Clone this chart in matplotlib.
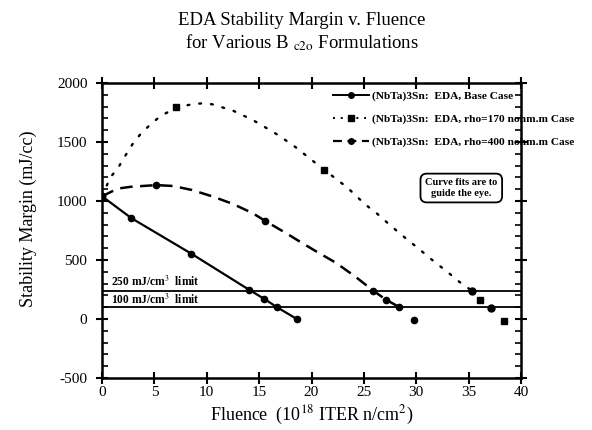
import matplotlib
matplotlib.use("Agg")
import matplotlib.pyplot as plt
from matplotlib.lines import Line2D
from matplotlib.ticker import MultipleLocator

plt.rcParams['font.family'] = ['Liberation Serif', 'DejaVu Serif']
plt.rcParams['mathtext.fontset'] = 'stix'
plt.rcParams['axes.unicode_minus'] = False

# ---- data ----
# Base case (solid line, circles)
base_x = [0, 2.8, 8.5, 14.0, 15.5, 16.7, 18.6]
base_y = [1040, 855, 555, 250, 170, 100, 0]

# rho=170 nohm.m case: curve fit (dotted) and markers
r170_fit_x = [0, 0.8, 1.6, 2.2, 2.9, 3.7, 4.7, 5.6, 7.1, 8.6, 9.6, 10.5, 12.5, 14.4,
              16.4, 17.5, 18.5, 19.5, 21.2, 23.4, 24.4, 25.2, 26.3, 27.3, 28.3,
              29.2, 30.2, 31.2, 32.1, 33.1, 34.1, 35.3]
r170_fit_y = [1040, 1200, 1290, 1380, 1480, 1570, 1655, 1720, 1792, 1820, 1828, 1820,
              1766, 1686, 1582, 1517, 1455, 1384, 1265, 1116, 1031, 966, 890, 811,
              735, 669, 599, 523, 460, 390, 316, 240]
r170_sq_x = [7.1, 21.2, 36.1, 38.4]
r170_sq_y = [1795, 1265, 160, -15]
r170_pt_x = [35.3, 37.1]
r170_pt_y = [240, 95]

# rho=400 nohm.m case: curve fit (dashed) and markers
r400_fit_x = [0, 1.5, 2.7, 5.2, 6.8, 8.6, 10.6, 12.5, 14.4, 15.6, 17.6, 18.9, 20.5,
              22.3, 24.2, 25.9, 27.1, 28.5]
r400_fit_y = [1040, 1105, 1120, 1135, 1127, 1093, 1037, 975, 896, 830, 726, 655, 570,
              478, 358, 240, 164, 95]
r400_pt_x = [0, 5.2, 15.6, 25.9, 27.1, 28.4, 29.8]
r400_pt_y = [1040, 1135, 830, 240, 165, 100, -10]

limits = [235, 100]
limit_labels = ["250 mJ/cm$^3$  limit", "100 mJ/cm$^3$  limit"]

legend_labels = ["(NbTa)3Sn:  EDA, Base Case",
                 "(NbTa)3Sn:  EDA, rho=170 nohm.m Case",
                 "(NbTa)3Sn:  EDA, rho=400 nohm.m Case"]

fig = plt.figure(figsize=(5.92, 4.30), dpi=100)
ax = fig.add_axes([102/592, 1-378/430, (521-102)/592, (378-83)/430])

ax.set_xlim(0, 40)
ax.set_ylim(-500, 2000)

# limit lines
for v in limits:
    ax.axhline(v, color='black', lw=1.3, zorder=2)
ax.text(0.9, 318, limit_labels[0], fontsize=8.3, fontweight='bold', va='center')
ax.text(0.9, 165, limit_labels[1], fontsize=8.3, fontweight='bold', va='center')

# base case
ax.plot(base_x, base_y, color='black', lw=1.6, marker='o', ms=4.5, zorder=3)

# rho=170
ax.plot(r170_fit_x, r170_fit_y, color='black', lw=1.7, dashes=(0.8, 4.2),
        dash_capstyle='round', zorder=3)
ax.plot(r170_sq_x, r170_sq_y, ls='none', marker='s', ms=4.5, color='black', zorder=3)
ax.plot(r170_pt_x, r170_pt_y, ls='none', marker='o', ms=5, color='black', zorder=3)

# rho=400
ax.plot(r400_fit_x, r400_fit_y, color='black', lw=1.8, dashes=(5, 3), zorder=3)
ax.plot(r400_pt_x, r400_pt_y, ls='none', marker='o', ms=4.5, color='black', zorder=3)

# legend
handles = [Line2D([], [], color='black', lw=1.4, marker='o', ms=4),
           Line2D([], [], color='black', lw=1.4, dashes=(1, 3), marker='s', ms=4),
           Line2D([], [], color='black', lw=1.6, dashes=(4, 2.5), marker='o', ms=4)]
leg = fig.legend(handles, legend_labels, loc='upper left', frameon=False,
                 prop={'size': 8.2, 'weight': 'bold', 'family': 'Liberation Serif'},
                 handlelength=3.2, handletextpad=0.2, labelspacing=1.12,
                 borderpad=0, borderaxespad=0,
                 bbox_to_anchor=(333/592, 1-91/430))

# note box
ax.text(34.3, 1110, "Curve fits are to\nguide the eye.", fontsize=7.5, fontweight='bold',
        ha='center', va='center', linespacing=1.2,
        bbox=dict(boxstyle='round,pad=0.45,rounding_size=0.6', fc='white', ec='black', lw=1.3))

# axes styling
for s in ax.spines.values():
    s.set_linewidth(1.8)
ax.xaxis.set_major_locator(MultipleLocator(5))
ax.yaxis.set_major_locator(MultipleLocator(500))
ax.yaxis.set_minor_locator(MultipleLocator(100))
ax.tick_params(axis='both', which='major', direction='inout', length=9, width=1.5,
               top=True, right=True, labelsize=11)
ax.tick_params(axis='y', which='minor', direction='in', length=4, width=1.2,
               left=True, right=True)
ax.tick_params(axis='x', which='minor', bottom=False, top=False)
ax.tick_params(axis='y', which='major', pad=6)
ax.tick_params(axis='x', which='major', pad=1)

ax.set_xlabel("Fluence  (10$^{18}$ ITER n/cm$^2$)", fontsize=13, labelpad=4)
ax.set_ylabel("Stability Margin (mJ/cc)", fontsize=13, labelpad=10)
ax.yaxis.set_label_coords(-0.155, 0.54)

fig.text(0.51, 0.953, "EDA Stability Margin v. Fluence", ha='center', va='center', fontsize=13.5)
fig.text(0.51, 0.900, r"for Various B $_{\mathrm{c2o}}$ Formulations", ha='center', va='center', fontsize=13.5)

fig.savefig("out.png", dpi=100)
